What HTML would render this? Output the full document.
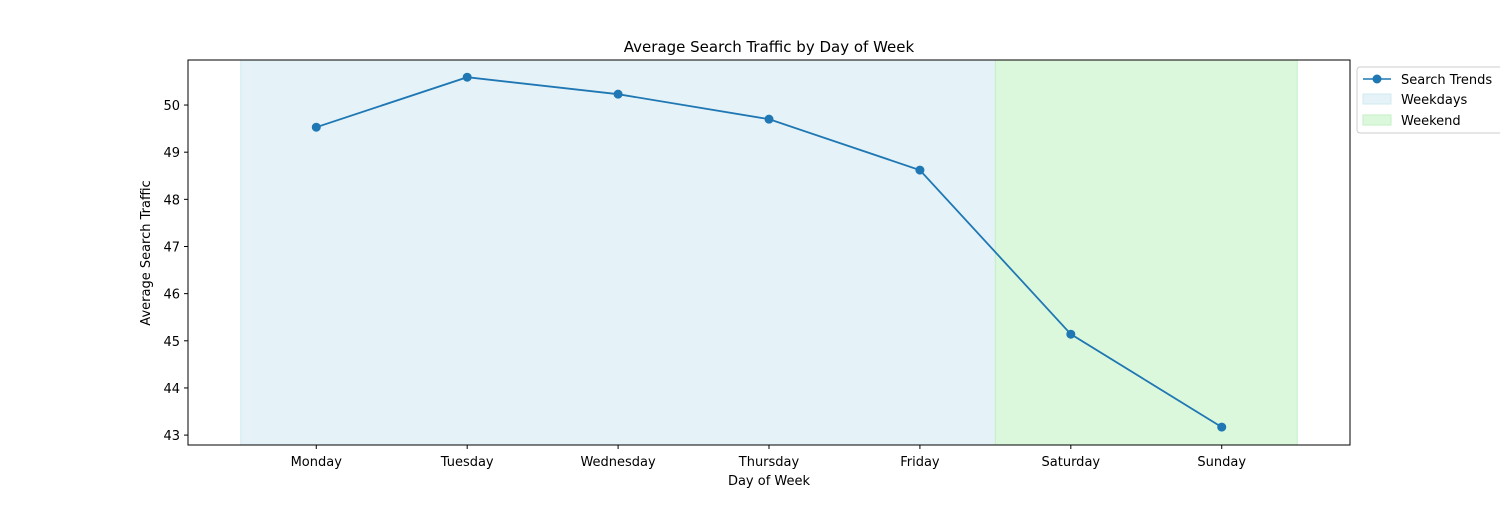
<!DOCTYPE html>
<html><head><meta charset="utf-8"><style>
body{margin:0;background:#fff;}
svg text{font-family:"DejaVu Sans","Liberation Sans",sans-serif;fill:#000;}
</style></head><body>
<svg width="1500" height="500" xmlns="http://www.w3.org/2000/svg">
<rect width="1500" height="500" fill="#fff"/>
<g id="spans"></g>
<g id="ticks"></g>
<g id="series"></g>
<rect x="188" y="60" width="1162" height="385" fill="none" stroke="#000" stroke-width="1"/>
<text x="769" y="52" font-size="15" text-anchor="middle">Average Search Traffic by Day of Week</text>
<text x="769" y="485" font-size="13" text-anchor="middle">Day of Week</text>
<text transform="translate(150,253) rotate(-90)" font-size="13" text-anchor="middle">Average Search Traffic</text>
<g>
<rect x="1357" y="67" width="150" height="66" rx="3" fill="#fff" stroke="#ccc"/>
<g><line x1="1363" y1="79" x2="1391" y2="79" stroke="#1f77b4" stroke-width="1.5"/><circle cx="1377" cy="79" r="4.5" fill="#1f77b4"/><text x="1401" y="84" font-size="13">Search Trends</text></g>
<g><rect x="1363" y="94" width="28" height="10" fill="#e5f3f8" stroke="#cfe8f1"/><text x="1401" y="104" font-size="13">Weekdays</text></g>
<g><rect x="1363" y="115" width="28" height="10" fill="#dbf8dc" stroke="#c4efc6"/><text x="1401" y="125" font-size="13">Weekend</text></g>
</g>
</svg>
<script>
const categories=["Monday","Tuesday","Wednesday","Thursday","Friday","Saturday","Sunday"];
const traffic=[49.53,50.59,50.23,49.70,48.62,45.14,43.17];
const yTicks=[43,44,45,46,47,48,49,50];
const spanStarts=[-0.5,4.5];
const spanEnds=[4.5,6.5];
const spanLabels=["weekdays-span","weekend-span"];
const NS="http://www.w3.org/2000/svg";
const L=188,R=1350,T=60,B=445,xmin=-0.85,xmax=6.85,ymin=42.79,ymax=50.955;
const xs=v=>L+(v-xmin)/(xmax-xmin)*(R-L);
const ys=v=>B-(v-ymin)/(ymax-ymin)*(B-T);
function mk(tag,attrs,parent){const e=document.createElementNS(NS,tag);for(const k in attrs)e.setAttribute(k,attrs[k]);parent.appendChild(e);return e;}
const sp=document.getElementById('spans');
const fills=["#e5f3f8","#dbf8dc"],strokes=["#cfe8f1","#c4efc6"];
spanStarts.forEach((s,i)=>{
 const r=mk('rect',{x:xs(s),y:T,width:xs(spanEnds[i])-xs(s),height:B-T,fill:fills[i],stroke:strokes[i]},sp);
 
 
});
const tk=document.getElementById('ticks');
categories.forEach((c,i)=>{
 const l=mk('line',{x1:xs(i),x2:xs(i),y1:B,y2:B+4,stroke:'#000'},tk);
 
 
 const t=mk('text',{x:xs(i),y:B+21,'font-size':13,'text-anchor':'middle'},tk);
 t.textContent=c;
 
 
});
yTicks.forEach(v=>{
 const l=mk('line',{x1:L-4,x2:L,y1:ys(v),y2:ys(v),stroke:'#000'},tk);
 
 
 const t=mk('text',{x:L-8,y:ys(v)+5,'font-size':13,'text-anchor':'end'},tk);
 t.textContent=v;
 
 
});
const se=document.getElementById('series');
const pl=mk('polyline',{points:traffic.map((v,i)=>xs(i)+','+ys(v)).join(' '),fill:'none',stroke:'#1f77b4','stroke-width':1.8},se);


traffic.forEach((v,i)=>{
 const c=mk('circle',{cx:xs(i),cy:ys(v),r:4.5,fill:'#1f77b4'},se);
 
 
});
</script>
</body></html>
